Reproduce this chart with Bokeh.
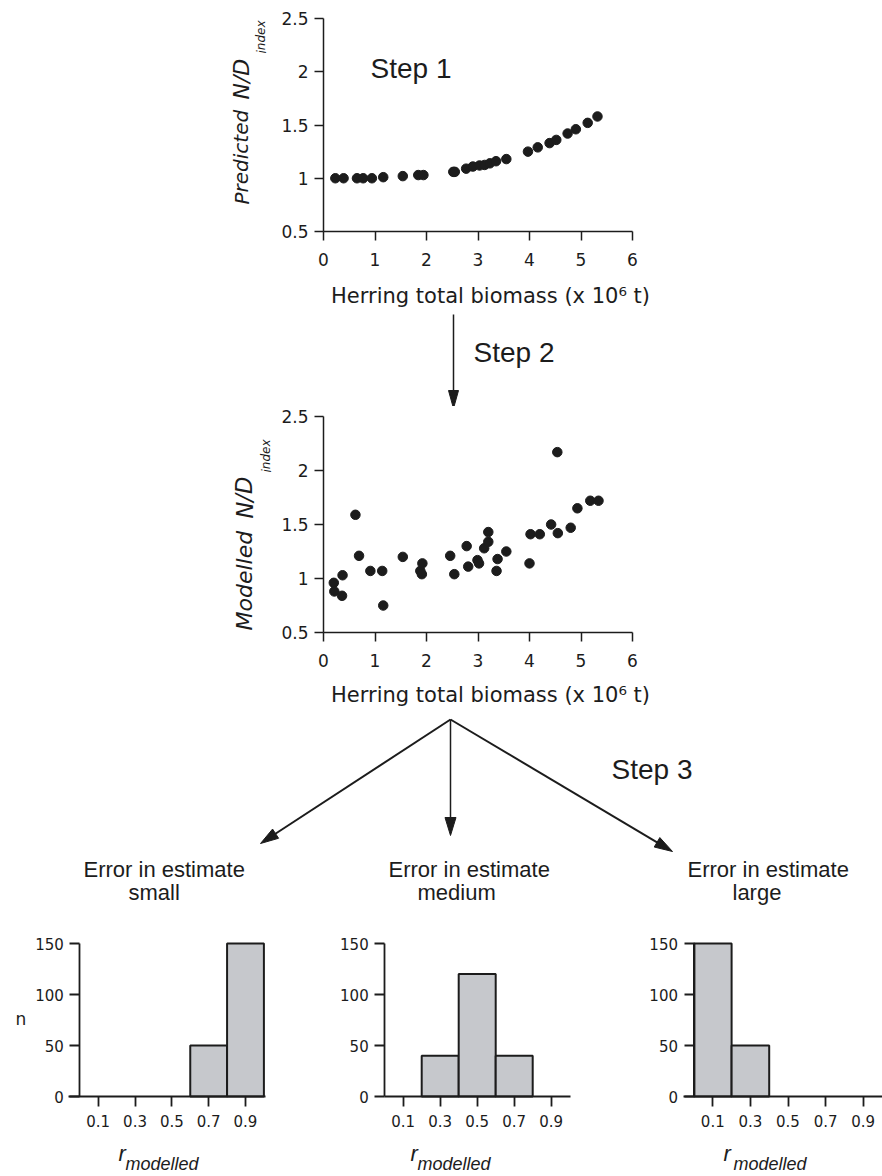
from bokeh.plotting import figure
from bokeh.layouts import column, row
from bokeh.models import Range1d, FixedTicker, PrintfTickFormatter, Label, ColumnDataSource
from bokeh.embed import file_html
from bokeh.resources import INLINE

# ---------------- data ----------------
biomass_pred = [0.23, 0.39, 0.65, 0.77, 0.94, 1.16, 1.54, 1.84, 1.94, 2.52, 2.55, 2.77,
                2.90, 3.03, 3.13, 3.23, 3.35, 3.55, 3.97, 4.16, 4.39, 4.52, 4.74, 4.90,
                5.13, 5.32]
nd_pred = [1.00, 1.00, 1.00, 1.00, 1.00, 1.01, 1.02, 1.03, 1.03, 1.06, 1.06, 1.09,
           1.11, 1.12, 1.125, 1.14, 1.16, 1.18, 1.25, 1.29, 1.33, 1.36, 1.42, 1.46,
           1.52, 1.58]

biomass_mod = [0.20, 0.21, 0.36, 0.37, 0.62, 0.69, 0.91, 1.14, 1.16, 1.54, 1.88, 1.91,
               1.92, 2.46, 2.54, 2.78, 2.81, 2.99, 3.02, 3.12, 3.20, 3.20, 3.36, 3.38,
               3.55, 4.00, 4.02, 4.20, 4.42, 4.54, 4.55, 4.80, 4.93, 5.18, 5.34]
nd_mod = [0.96, 0.88, 0.84, 1.03, 1.59, 1.21, 1.07, 1.07, 0.75, 1.20, 1.07, 1.04,
          1.14, 1.21, 1.04, 1.30, 1.11, 1.17, 1.14, 1.28, 1.34, 1.43, 1.07, 1.18,
          1.25, 1.14, 1.41, 1.41, 1.50, 2.17, 1.42, 1.47, 1.65, 1.72, 1.72]

scatter_xticks = [0, 1, 2, 3, 4, 5, 6]
scatter_yticks = [0.5, 1, 1.5, 2, 2.5]
x_label = "Herring total biomass (x 10\u2076 t)"

r_bin_left = [0.0, 0.2, 0.4, 0.6, 0.8]
r_bin_right = [0.2, 0.4, 0.6, 0.8, 1.0]
n_small = [0, 0, 0, 50, 150]
n_medium = [0, 40, 120, 40, 0]
n_large = [150, 50, 0, 0, 0]
hist_xticks = [0.1, 0.3, 0.5, 0.7, 0.9]
hist_yticks = [0, 50, 100, 150]
error_levels = ["small", "medium", "large"]

# ---------------- styling ----------------
INK = "#1c1c1c"
BAR = "#c6c8cc"
SANS = "Liberation Sans"
DJ = "DejaVu Sans"
UP = 1.5708


def band(w, h, left, top, x0px, sx, y0px, y0val, sy, axes=True):
    """Figure whose frame fills the canvas; returns figure and a page-pixel -> data converter."""
    xr = Range1d((left - x0px) / sx, (left + w - x0px) / sx)
    yr = Range1d(y0val - (top + h - y0px) / sy, y0val - (top - y0px) / sy)
    kw = {} if axes else dict(x_axis_type=None, y_axis_type=None)
    p = figure(width=w, height=h, x_range=xr, y_range=yr, output_backend="svg",
               toolbar_location=None, min_border=0, min_border_left=0, min_border_right=0,
               min_border_top=0, min_border_bottom=0, **kw)
    p.outline_line_color = None
    p.background_fill_color = "white"
    p.border_fill_color = "white"
    if axes:
        p.grid.visible = False

    def d(wx, wy):
        return (wx - x0px) / sx, y0val - (wy - y0px) / sy
    return p, d


def style_axis(ax, tick_out, lw, size, standoff):
    ax.axis_line_width = lw
    ax.axis_line_color = INK
    ax.major_tick_line_width = lw
    ax.major_tick_line_color = INK
    ax.major_tick_out = tick_out
    ax.major_tick_in = 0
    ax.minor_tick_line_color = None
    ax.major_label_text_font = DJ
    ax.major_label_text_font_size = size
    ax.major_label_text_color = INK
    ax.major_label_standoff = standoff


def lab(p, d, wx, wy, text, size, font=SANS, style="normal", angle=0.0, align="left"):
    """wx: start (or centre) of the text, wy: vertical centre of the text, page pixels."""
    x, y = d(wx, wy)
    p.add_layout(Label(x=x, y=y, text=text, text_font=font, text_font_size=size,
                       text_font_style=style, text_color=INK, angle=angle,
                       text_align=align, text_baseline="middle"))


def arrow(p, d, a, b, lw, L=18.0, w=5.5):
    x0, y0 = d(*a)
    x1, y1 = d(*b)
    dx, dy = x1 - x0, y1 - y0
    n = (dx * dx + dy * dy) ** 0.5
    ux, uy = dx / n, dy / n
    bx, by = x1 - L * ux, y1 - L * uy
    p.segment([x0], [y0], [bx + 2 * ux], [by + 2 * uy], line_color=INK, line_width=lw)
    p.patch([x1, bx - w * uy, bx + w * uy], [y1, by + w * ux, by - w * ux],
            fill_color=INK, line_color=INK, line_width=1)


def scatter_panel(xs, ys, top, h, top_px, sy):
    p, d = band(882, h, 0, top, 323, 51.5, top_px, 2.5, sy)
    p.scatter(xs, ys, size=9.5, color=INK, marker="circle")
    style_axis(p.xaxis[0], 9, 1.5, "17px", 12)
    style_axis(p.yaxis[0], 9, 1.5, "17px", 6)
    p.xaxis.fixed_location = 0.5
    p.yaxis.fixed_location = 0
    p.xaxis.bounds = (0, 6)
    p.yaxis.bounds = (0.5, 2.5)
    p.xaxis.ticker = FixedTicker(ticks=scatter_xticks)
    p.yaxis.ticker = FixedTicker(ticks=scatter_yticks)
    p.yaxis.formatter = PrintfTickFormatter(format="%g")
    return p, d


# ---- Step 1 panel ----
pA, dA = scatter_panel(biomass_pred, nd_pred, 0, 311, 18, 106.5)
lab(pA, dA, 241, 204, "Predicted", "20px", DJ, "italic", UP)
lab(pA, dA, 241, 99, "N/D", "22px", DJ, "italic", UP)
lab(pA, dA, 261, 53, "index", "12px", DJ, "italic", UP)
lab(pA, dA, 370, 68, "Step 1", "28px")
lab(pA, dA, 490, 295, x_label, "21px", DJ, align="center")

# ---- Step 2 arrow ----
g1, d1g = band(882, 95, 0, 311, 0, 1, 0, 0, 1, axes=False)
arrow(g1, d1g, (453, 314), (453, 408), 1.5, 18, 5)
lab(g1, d1g, 473, 352, "Step 2", "28px")

# ---- Step 2 panel ----
pB, dB = scatter_panel(biomass_mod, nd_mod, 406, 302, 416, 108)
lab(pB, dB, 244, 630, "Modelled", "22px", DJ, "italic", UP)
lab(pB, dB, 244, 518, "N/D", "22.5px", DJ, "italic", UP)
lab(pB, dB, 266, 472, "index", "12px", DJ, "italic", UP)
lab(pB, dB, 490, 694, x_label, "21px", DJ, align="center")

# ---- Step 3 arrows + titles ----
g2, d2g = band(882, 222, 0, 708, 0, 1, 0, 0, 1, axes=False)
arrow(g2, d2g, (450, 719), (260, 843), 2)
arrow(g2, d2g, (450, 719), (450, 835), 1.5)
arrow(g2, d2g, (450, 719), (672, 851), 2)
lab(g2, d2g, 611, 769, "Step 3", "28px")
for tx, sx2, word in zip([83, 388, 687], [128, 417, 732], error_levels):
    lab(g2, d2g, tx, 869, "Error in estimate", "22px")
    lab(g2, d2g, sx2, 892, word, "22px")


# ---- histograms ----
def hist_panel(counts, left, w, x0px, sx, xb):
    p, d = band(w, 245, left, 930, x0px, sx, 1096, 0, 1.02)
    keep = [i for i, c in enumerate(counts) if c > 0]
    src = ColumnDataSource(dict(left=[r_bin_left[i] for i in keep],
                                right=[r_bin_right[i] for i in keep],
                                top=[counts[i] for i in keep],
                                bottom=[0] * len(keep)))
    p.quad(left="left", right="right", top="top", bottom="bottom", source=src,
           fill_color=BAR, line_color=INK, line_width=2)
    style_axis(p.xaxis[0], 10, 1.8, "15px", 8)
    style_axis(p.yaxis[0], 10, 1.8, "15px", 6)
    p.xaxis.fixed_location = 0
    p.yaxis.fixed_location = 0
    p.xaxis.bounds = xb
    p.yaxis.bounds = (0, 150)
    p.xaxis.ticker = FixedTicker(ticks=hist_xticks)
    p.xaxis.formatter = PrintfTickFormatter(format="%g")
    p.yaxis.ticker = FixedTicker(ticks=hist_yticks)
    return p, d


h1, e1 = hist_panel(n_small, 0, 300, 79.3, 184.1, (-0.06, 1.01))
h2, e2 = hist_panel(n_medium, 300, 290, 384.2, 185.0, (0, 1.005))
h3, e3 = hist_panel(n_large, 590, 292, 693.5, 188.0, (-0.057, 1.0))

lab(h1, e1, 15, 1018, "n", "17px", DJ)
for hp, ee, rx, mx in [(h1, e1, 118, 125), (h2, e2, 410, 417), (h3, e3, 723, 733)]:
    lab(hp, ee, rx, 1153, "r", "22px", SANS, "italic")
    lab(hp, ee, mx, 1163, "modelled", "18px", SANS, "italic")

layout = column(pA, g1, pB, g2, row(h1, h2, h3))
open("out.html", "w").write(file_html(layout, INLINE))
